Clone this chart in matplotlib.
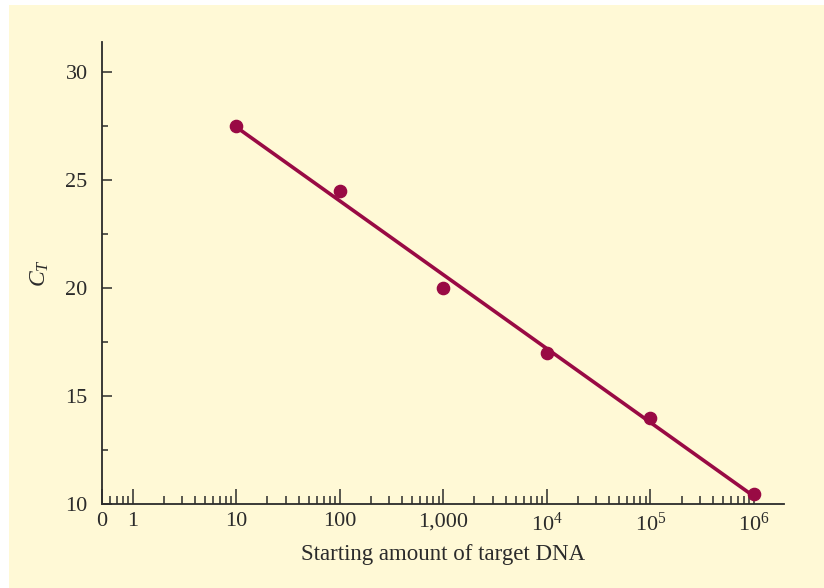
import numpy as np
import matplotlib
matplotlib.use("Agg")
import matplotlib.pyplot as plt
from matplotlib.patches import Rectangle
from matplotlib.ticker import FixedLocator, FixedFormatter

# data
dna_amount = [10, 100, 1000, 1e4, 1e5, 1e6]
ct_values = [27.5, 24.5, 20.0, 17.0, 14.0, 10.45]

x_tick_pos = [0.5, 1, 10, 100, 1000, 1e4, 1e5, 1e6]
x_tick_labels = ["0", "1", "10", "100", "1,000", r"10$^4$", r"10$^5$", r"10$^6$"]
y_tick_pos = [10, 15, 20, 25, 30]
y_minor_pos = [12.5, 17.5, 22.5, 27.5]

bg = "#fff9d6"
wine = "#990a44"
ink = "#2b2b2b"

plt.rcParams["font.family"] = ["Liberation Serif", "DejaVu Serif"]
plt.rcParams["mathtext.fontset"] = "custom"
plt.rcParams["mathtext.rm"] = "Liberation Serif"
plt.rcParams["mathtext.it"] = "Liberation Serif:italic"

fig = plt.figure(figsize=(8.24, 5.88), dpi=100)
fig.patch.set_facecolor("white")
# yellow panel, small white margin at the top and left
fig.patches.append(Rectangle((9 / 824, 0), 1, 1 - 5 / 588, transform=fig.transFigure,
                             facecolor=bg, edgecolor="none", zorder=-10))

ax = fig.add_axes([101.5 / 824, 84 / 588, 682.5 / 824, 462 / 588])
ax.set_facecolor("none")
ax.set_xscale("log")
ax.set_xlim(0.5, 1.95e6)
ax.set_ylim(10, 31.4)

# regression line through the points
coef = np.polyfit(np.log10(dna_amount), ct_values, 1)
xfit = np.array([dna_amount[0], dna_amount[-1]])
ax.plot(xfit, np.polyval(coef, np.log10(xfit)), color=wine, lw=2.6, zorder=3,
        solid_capstyle="butt", clip_on=False)
ax.plot(dna_amount, ct_values, "o", color=wine, ms=8.8, zorder=4, clip_on=False)

# ticks
minor = [0.6, 0.7, 0.8, 0.9]
for d in range(0, 6):
    minor += [k * 10 ** d for k in range(2, 10)]
ax.xaxis.set_major_locator(FixedLocator(x_tick_pos))
ax.xaxis.set_major_formatter(FixedFormatter(x_tick_labels))
ax.xaxis.set_minor_locator(FixedLocator(minor))
ax.xaxis.set_minor_formatter(FixedFormatter([""] * len(minor)))
ax.set_yticks(y_tick_pos)
ax.set_yticks(y_minor_pos, minor=True)

ax.tick_params(axis="x", which="major", direction="in", length=11, width=1.1,
               pad=6, labelsize=16, colors=ink)
ax.tick_params(axis="x", which="minor", direction="in", length=5.5, width=1.1, colors=ink)
ax.tick_params(axis="y", which="major", direction="in", length=7.5, width=1.1,
               pad=10, labelsize=16, colors=ink)
ax.tick_params(axis="y", which="minor", direction="in", length=4.5, width=1.1, colors=ink)

for s in ["top", "right"]:
    ax.spines[s].set_visible(False)
for s in ["left", "bottom"]:
    ax.spines[s].set_color(ink)
    ax.spines[s].set_linewidth(1.3)

ax.set_xlabel("Starting amount of target DNA", fontsize=16.5, color=ink, labelpad=6)
ax.set_ylabel(r"$C_T$", fontsize=17, color=ink, labelpad=10)

fig.savefig("out.png", dpi=100)
